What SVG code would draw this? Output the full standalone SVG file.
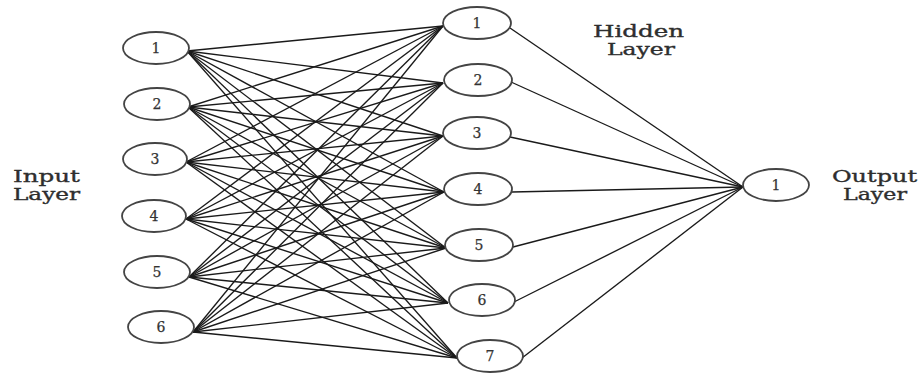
<svg xmlns="http://www.w3.org/2000/svg" width="921" height="374" viewBox="0 0 921 374">
  <style>
    .node ellipse { fill: #ffffff; stroke: #444; stroke-width: 1.8; }
    .node text { font-family: "DejaVu Serif", "Liberation Serif", serif; font-size: 14px; fill: #333; stroke: #333; stroke-width: 0.25; text-anchor: middle; dominant-baseline: central; }
    .edges line { stroke: #1a1a1a; stroke-width: 1.35; }
    .label { font-family: "DejaVu Serif", "Liberation Serif", serif; font-size: 16px; fill: #2e2e2e; stroke: #2e2e2e; stroke-width: 0.35; }
  </style>
  <rect width="921" height="374" fill="#ffffff"/>

  <!-- connectors: input -> hidden, hidden -> output -->
  <g id="connectors" class="edges">
    <!-- from input 1 (187,51) -->
    <line x1="187" y1="51" x2="443" y2="26"/>
    <line x1="187" y1="51" x2="443" y2="83"/>
    <line x1="187" y1="51" x2="443" y2="136"/>
    <line x1="187" y1="51" x2="444" y2="192"/>
    <line x1="187" y1="51" x2="446" y2="248"/>
    <line x1="187" y1="51" x2="448" y2="303"/>
    <line x1="187" y1="51" x2="457" y2="358"/>
    <!-- from input 2 (188,107) -->
    <line x1="188" y1="107" x2="443" y2="26"/>
    <line x1="188" y1="107" x2="443" y2="83"/>
    <line x1="188" y1="107" x2="443" y2="136"/>
    <line x1="188" y1="107" x2="444" y2="192"/>
    <line x1="188" y1="107" x2="446" y2="248"/>
    <line x1="188" y1="107" x2="448" y2="303"/>
    <line x1="188" y1="107" x2="457" y2="358"/>
    <!-- from input 3 (186,162) -->
    <line x1="186" y1="162" x2="443" y2="26"/>
    <line x1="186" y1="162" x2="443" y2="83"/>
    <line x1="186" y1="162" x2="443" y2="136"/>
    <line x1="186" y1="162" x2="444" y2="192"/>
    <line x1="186" y1="162" x2="446" y2="248"/>
    <line x1="186" y1="162" x2="448" y2="303"/>
    <line x1="186" y1="162" x2="457" y2="358"/>
    <!-- from input 4 (186,219) -->
    <line x1="186" y1="219" x2="443" y2="26"/>
    <line x1="186" y1="219" x2="443" y2="83"/>
    <line x1="186" y1="219" x2="443" y2="136"/>
    <line x1="186" y1="219" x2="444" y2="192"/>
    <line x1="186" y1="219" x2="446" y2="248"/>
    <line x1="186" y1="219" x2="448" y2="303"/>
    <line x1="186" y1="219" x2="457" y2="358"/>
    <!-- from input 5 (189,277) -->
    <line x1="189" y1="277" x2="443" y2="26"/>
    <line x1="189" y1="277" x2="443" y2="83"/>
    <line x1="189" y1="277" x2="443" y2="136"/>
    <line x1="189" y1="277" x2="444" y2="192"/>
    <line x1="189" y1="277" x2="446" y2="248"/>
    <line x1="189" y1="277" x2="448" y2="303"/>
    <line x1="189" y1="277" x2="457" y2="358"/>
    <!-- from input 6 (193,332) -->
    <line x1="193" y1="332" x2="443" y2="26"/>
    <line x1="193" y1="332" x2="443" y2="83"/>
    <line x1="193" y1="332" x2="443" y2="136"/>
    <line x1="193" y1="332" x2="444" y2="192"/>
    <line x1="193" y1="332" x2="446" y2="248"/>
    <line x1="193" y1="332" x2="448" y2="303"/>
    <line x1="193" y1="332" x2="457" y2="358"/>
    <!-- hidden -> output (743,187) -->
    <line x1="510" y1="28" x2="743" y2="187"/>
    <line x1="511" y1="82" x2="743" y2="187"/>
    <line x1="510" y1="137" x2="743" y2="187"/>
    <line x1="512" y1="192" x2="743" y2="187"/>
    <line x1="513" y1="247" x2="743" y2="187"/>
    <line x1="514" y1="302" x2="743" y2="187"/>
    <line x1="522" y1="358" x2="743" y2="187"/>
  </g>

  <!-- input layer -->
  <g id="in1" class="node"><ellipse cx="156" cy="48" rx="33" ry="16"/><text x="156" y="48">1</text></g>
  <g id="in2" class="node"><ellipse cx="157" cy="104" rx="33" ry="16"/><text x="157" y="104">2</text></g>
  <g id="in3" class="node"><ellipse cx="155" cy="159" rx="32" ry="16"/><text x="155" y="159">3</text></g>
  <g id="in4" class="node"><ellipse cx="154" cy="216" rx="32" ry="16"/><text x="154" y="216">4</text></g>
  <g id="in5" class="node"><ellipse cx="157" cy="272" rx="33" ry="16"/><text x="157" y="272">5</text></g>
  <g id="in6" class="node"><ellipse cx="161" cy="327" rx="33" ry="16"/><text x="161" y="327">6</text></g>

  <!-- hidden layer -->
  <g id="h1" class="node"><ellipse cx="477" cy="23" rx="34" ry="16"/><text x="477" y="23">1</text></g>
  <g id="h2" class="node"><ellipse cx="478" cy="80" rx="34" ry="16"/><text x="478" y="80">2</text></g>
  <g id="h3" class="node"><ellipse cx="477" cy="133" rx="34" ry="16"/><text x="477" y="133">3</text></g>
  <g id="h4" class="node"><ellipse cx="478" cy="189" rx="34" ry="16"/><text x="478" y="189">4</text></g>
  <g id="h5" class="node"><ellipse cx="479" cy="245" rx="34" ry="16"/><text x="479" y="245">5</text></g>
  <g id="h6" class="node"><ellipse cx="482" cy="300" rx="33" ry="16"/><text x="482" y="300">6</text></g>
  <g id="h7" class="node"><ellipse cx="490" cy="356" rx="33" ry="16"/><text x="490" y="356">7</text></g>

  <!-- output layer -->
  <g id="out1" class="node"><ellipse cx="776" cy="185" rx="33" ry="16"/><text x="776" y="185">1</text></g>

  <!-- layer captions -->
  <g id="captions">
    <text class="label" x="13" y="182" textLength="67" lengthAdjust="spacingAndGlyphs">Input</text>
    <text class="label" x="13" y="200" textLength="67" lengthAdjust="spacingAndGlyphs">Layer</text>
    <text class="label" x="593" y="37" textLength="91" lengthAdjust="spacingAndGlyphs">Hidden</text>
    <text class="label" x="607" y="55" textLength="68" lengthAdjust="spacingAndGlyphs">Layer</text>
    <text class="label" x="832" y="182" textLength="85" lengthAdjust="spacingAndGlyphs">Output</text>
    <text class="label" x="843" y="200" textLength="64" lengthAdjust="spacingAndGlyphs">Layer</text>
  </g>
</svg>
